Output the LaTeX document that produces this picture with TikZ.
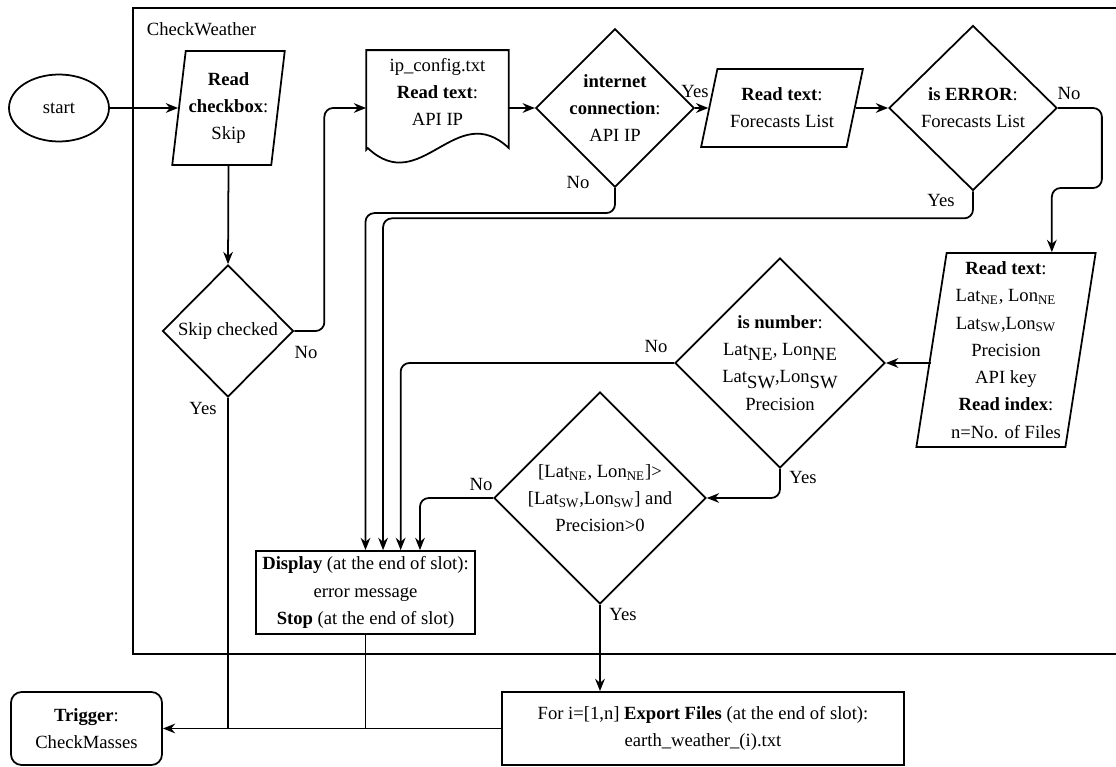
\documentclass[tikz,border=0pt]{standalone}
\usepackage{fontspec}
\setmainfont{Liberation Serif}
\usetikzlibrary{shapes.geometric,arrows.meta}

\begin{document}
\begin{tikzpicture}[x=0.02cm, y=-0.02cm, line width=1pt,
    font=\fontsize{10.6}{15.5}\selectfont,
    arr/.style={-{Stealth[length=7pt,width=5.5pt]}},
    decision/.style={diamond, draw, inner sep=0pt, align=center},
    io/.style={trapezium, trapezium stretches=true, draw, inner sep=0pt, align=center},
    box/.style={rectangle, draw, inner sep=0pt, align=center},
    lbl/.style={inner sep=0pt}]
    \useasboundingbox (0,0) rectangle (1116,767);

    % container
    \draw (133,8) rectangle (1140,654);
    \node[lbl, anchor=west] (title) at (146,29) {CheckWeather};

    \node[ellipse, draw, minimum width=2cm, minimum height=1.34cm] (start) at (59,108) {start};
    \node[io, trapezium left angle=80, trapezium right angle=100, minimum width=2.26cm, minimum height=2.28cm] (rc) at (228.5,108) {\textbf{Read}\\\textbf{checkbox}:\\Skip};
    \node[decision, minimum width=2.62cm, minimum height=2.64cm] (skc) at (228,331) {Skip checked};

    \node[lbl, minimum width=2.82cm, minimum height=1.64cm, align=center] (ipdoc) at (437.5,92) {ip\_config.txt\\\textbf{Read text}:\\API IP};
    \draw (ipdoc.south west) ++(0,16) -- (ipdoc.north west) -- (ipdoc.north east) -- ++(0,98)
        .. controls +(-53,-50) and +(53,50) .. ++(-141,0) -- cycle;

    \node[decision, minimum width=2.62cm, minimum height=2.62cm] (inet) at (615,108) {\textbf{internet}\\\textbf{connection}:\\API IP};
    \node[io, trapezium left angle=72, trapezium right angle=108, minimum width=3.26cm, minimum height=1.56cm] (rf) at (782,108) {\textbf{Read text}:\\Forecasts List};
    \node[decision, minimum width=3.36cm, minimum height=3.3cm] (err) at (973,108) {\textbf{is ERROR}:\\Forecasts List};

    \node[io, trapezium left angle=81, trapezium right angle=99, minimum width=3.62cm, minimum height=3.88cm] (rll) at (1006,350)
        {\textbf{Read text}:\\Lat\textsubscript{NE}, Lon\textsubscript{NE}\\Lat\textsubscript{SW},Lon\textsubscript{SW}\\Precision\\API key\\\textbf{Read index}:\\n=No. of Files};
    \node[decision, minimum width=3.9cm, minimum height=3.9cm] (isnum) at (780,363)
        {\textbf{is number}:\\Lat\raisebox{-.6ex}{NE}, Lon\raisebox{-.6ex}{NE}\\Lat\raisebox{-.6ex}{SW},Lon\raisebox{-.6ex}{SW}\\Precision};
    \node[decision, minimum width=3.86cm, minimum height=4.18cm] (cmp) at (600,498)
        {{[}Lat\textsubscript{NE}, Lon\textsubscript{NE}{]}>\\{[}Lat\textsubscript{SW},Lon\textsubscript{SW}{]} and\\Precision>0};

    \node[box, minimum width=4.38cm, minimum height=1.66cm] (disp) at (365.5,592.5)
        {\textbf{Display} (at the end of slot):\\error message\\\textbf{Stop} (at the end of slot)};
    \node[box, rounded corners=6pt, minimum width=3.02cm, minimum height=1.46cm] (trig) at (86.5,728.5) {\textbf{Trigger}:\\CheckMasses};
    \node[box, minimum width=8.04cm, minimum height=1.46cm] (exp) at (703,728.5)
        {For i=[1,n] \textbf{Export Files} (at the end of slot):\\earth\_weather\_(i).txt};

    % flow
    \draw[arr] (start.east) -- (rc.left side);
    \draw[arr] (rc.south) -- (skc.north);
    \draw[arr, rounded corners=5pt] (skc.east) -- ++(30,0) |- (ipdoc.west |- start.east);
    \draw[arr] (ipdoc.east |- start.east) -- (inet.west);
    \draw[arr] (inet.east) -- (rf.left side);
    \draw[arr] (rf.right side) -- (err.west);
    \draw[arr, rounded corners=5pt] (err.east) -- ++(44,0) -- ++(0,80) -| ([xshift=-25.5pt]rll.top right corner);
    \draw[arr] (rll.left side |- isnum.east) -- (isnum.east);
    \draw[arr, rounded corners=5pt] (isnum.south) |- (cmp.east);
    \draw[arr] (cmp.south) -- (cmp.south |- exp.north);

    % error branches
    \draw[arr, rounded corners=5pt] (inet.south) -- ++(0,25) -| (disp.north);
    \draw[arr, rounded corners=5pt] (err.south) -- ++(0,27) -| ([xshift=10pt]disp.north);
    \draw[arr, rounded corners=5pt] (isnum.west) -| ([xshift=20pt]disp.north);
    \draw[arr, rounded corners=5pt] (cmp.west) -| ([xshift=31pt]disp.north);

    % to trigger
    \draw[arr] (exp.west) -- (trig.east);
    \draw (skc.south) -- (skc.south |- trig.east);
    \draw (disp.south) -- (disp.south |- trig.east);

    \node[lbl] (skno) at (306,352) {No};
    \node[lbl] (skyes) at (203,408) {Yes};
    \node[lbl] (inyes) at (695,91) {Yes};
    \node[lbl] (inno) at (578,182) {No};
    \node[lbl] (erno) at (1069,93) {No};
    \node[lbl] (eryes) at (941,200) {Yes};
    \node[lbl] (numno) at (656,346) {No};
    \node[lbl] (numyes) at (803,477) {Yes};
    \node[lbl] (cmpno) at (481,484) {No};
    \node[lbl] (cmpyes) at (623,614) {Yes};
\end{tikzpicture}
\end{document}
